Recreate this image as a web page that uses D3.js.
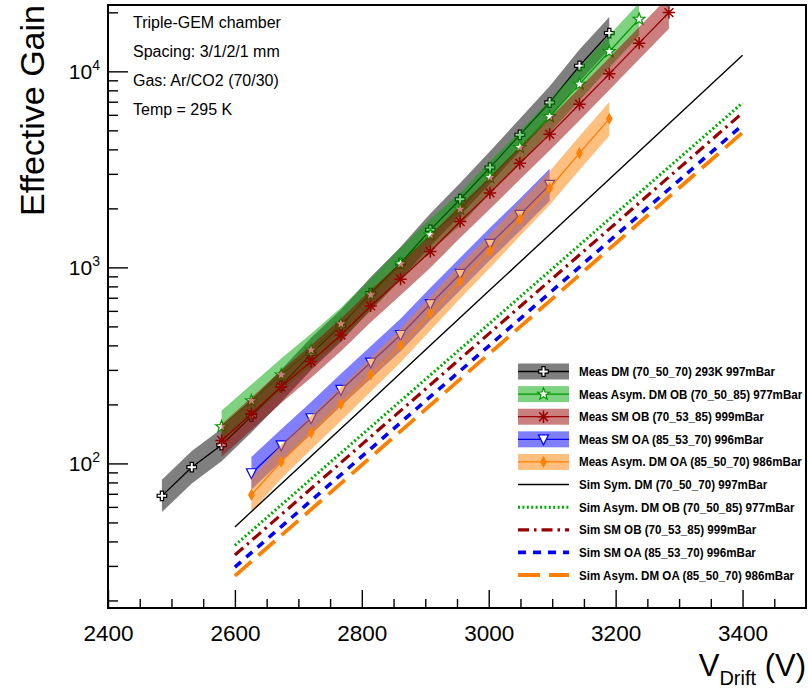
<!DOCTYPE html>
<html><head><meta charset="utf-8">
<script src="https://cdn.jsdelivr.net/npm/d3@7"></script>
<style>
body{margin:0;background:#fff}
svg{display:block}
text{font-family:"Liberation Sans",Arial,Helvetica,sans-serif}
</style>
</head><body>
<svg id="c" width="808" height="693"></svg>
<script>
// ---------------- data ----------------
const dmVolts  = [2485,2532,2579,2626,2673,2720,2767,2814,2861,2908,2955,3002,3049,3096,3143,3190];
const dmGain   = [68.3,95.7,124,174,249,362,503,738,1050,1554,2228,3229,4743,6933,10670,15670];
const obVolts  = [2579,2626,2673,2720,2767,2814,2861,2908,2955,3002,3049,3096,3143,3190,3237];
const obGain   = [154,209,283,379,515,724,1042,1465,1981,2878,4095,5880,8603,12620,18460];
const smobVolts= [2579,2626,2673,2720,2767,2814,2861,2908,2955,3002,3049,3096,3143,3190,3237,3284];
const smobGain = [131,179,246,331,452,636,871,1204,1713,2399,3400,4770,6800,9710,13930,19950];
const smoaVolts= [2626,2673,2720,2767,2814,2861,2908,2955,3002,3049,3096];
const smoaGain = [89.1,123.6,170,237,327,452,650,926,1318,1853,2636];
const oaVolts  = [2626,2673,2720,2767,2814,2861,2908,2955,3002,3049,3096,3143,3190];
const oaGain   = [69.1,102,143.6,201,283,399,582,847,1214,1762,2535,3826,5724];
const measRelErr = [0.21,0.21,0.21,0.21,0.22];

const simVolts   = [2600,2700,2800,2900,3000,3100,3200,3300,3400];
const simSymDM   = [47.4,94.8,189,379,757,1512,3023,6043,12080];
const simAsymOB  = [38.2,73.1,140,268,513,983,1883,3606,6906];
const simSMOB    = [34.1,65.3,125,239,458,876,1676,3208,6138];
const simSMOA    = [29.6,56.7,108.5,208,397,760,1454,2782,5321];
const simAsymOA  = [26.7,51.1,98.1,188,361,691,1326,2542,4873];

const legendLabels = [
  "Meas DM (70_50_70) 293K  997mBar",
  "Meas Asym. DM OB (70_50_85) 977mBar",
  "Meas SM OB (70_53_85) 999mBar",
  "Meas SM OA (85_53_70) 996mBar",
  "Meas Asym. DM OA (85_50_70) 986mBar",
  "Sim Sym. DM (70_50_70) 997mBar",
  "Sim Asym. DM OB (70_50_85) 977mBar",
  "Sim SM OB (70_53_85)  999mBar",
  "Sim SM OA (85_53_70) 996mBar",
  "Sim Asym. DM OA (85_50_70) 986mBar"
];
const infoLines = ["Triple-GEM chamber","Spacing: 3/1/2/1 mm","Gas: Ar/CO2 (70/30)","Temp = 295 K"];
const xMajor = [2400,2600,2800,3000,3200,3400];
const yMajor = [100,1000,10000];
const yExp = ["2","3","4"];

// ---------------- layout ----------------
const L=108, R=806, T=5, B=608;
const svg = d3.select("#c");
const x = d3.scaleLinear().domain([2400,3500]).range([L,R]);
const y = d3.scaleLog().domain([18.3,21800]).range([B,T]);

svg.append("defs").append("clipPath").attr("id","clip")
  .append("rect").attr("x",L).attr("y",T).attr("width",R-L).attr("height",B-T);
const plot = svg.append("g").attr("clip-path","url(#clip)");

// marker shapes
function markerPath(type){
  switch(type){
    case "cross": { const a=4.8,b=1.6; return `M${-b},${-a}H${b}V${-b}H${a}V${b}H${b}V${a}H${-b}V${b}H${-a}V${-b}H${-b}Z`; }
    case "star": { let p=[]; for(let i=0;i<10;i++){const r=i%2?2.6:6.2; const an=-Math.PI/2+i*Math.PI/5; p.push([r*Math.cos(an),r*Math.sin(an)]);} return "M"+p.map(d=>d.join(",")).join("L")+"Z"; }
    case "aster": { const r=6.2,q=r*Math.SQRT1_2; return `M${-r},0H${r}M0,${-r}V${r}M${-q},${-q}L${q},${q}M${-q},${q}L${q},${-q}`; }
    case "tri": return "M-5,-4.5L5,-4.5L0,5.5Z";
    case "diamond": return "M0,-4.8L2.7,0L0,4.8L-2.7,0Z";
  }
}

const meas = [
  {v:dmVolts,  g:dmGain,  band:"rgba(0,0,0,0.5)",     line:"#000000", mk:"cross",  mfill:"#ffffff", mstroke:"#000000", sw:1.2},
  {v:obVolts,  g:obGain,  band:"rgba(0,165,0,0.5)",   line:"#009900", mk:"star",   mfill:"#ffffff", mstroke:"#009900", sw:1.2},
  {v:smobVolts,g:smobGain,band:"rgba(153,0,0,0.5)",   line:"#990000", mk:"aster",  mfill:"none",    mstroke:"#990000", sw:1.5},
  {v:smoaVolts,g:smoaGain,band:"rgba(0,0,255,0.5)",   line:"#0000ff", mk:"tri",    mfill:"#ffffff", mstroke:"#0000ff", sw:1.2},
  {v:oaVolts,  g:oaGain,  band:"rgba(255,128,0,0.5)", line:"#ff8000", mk:"diamond",mfill:"#ff8000", mstroke:"#ff8000", sw:1.2}
];

const sims = [
  {g:simSymDM,  color:"#000000", w:1.4, dash:null},
  {g:simAsymOB, color:"#00aa00", w:3,   dash:"2,2.4"},
  {g:simSMOB,   color:"#990000", w:3.2, dash:"11,5,2.5,5"},
  {g:simSMOA,   color:"#0000ff", w:3.6, dash:"8,7"},
  {g:simAsymOA, color:"#ff8000", w:3.8, dash:"22,9"}
];

// measured series: band, line, markers (drawn in sequence)
meas.forEach((s,i)=>{
  const e = measRelErr[i];
  const pts = s.v.map((v,j)=>({v, g:s.g[j]}));
  const area = d3.area().x(d=>x(d.v)).y0(d=>y(d.g/(1+e))).y1(d=>y(d.g*(1+e)));
  plot.append("path").attr("d",area(pts)).attr("fill",s.band).attr("stroke","none");
  const line = d3.line().x(d=>x(d.v)).y(d=>y(d.g));
  plot.append("path").attr("d",line(pts)).attr("fill","none").attr("stroke",s.line).attr("stroke-width",1.3);
  plot.selectAll(null).data(pts).enter().append("path")
    .attr("transform",d=>`translate(${x(d.v)},${y(d.g)})`)
    .attr("d",markerPath(s.mk)).attr("fill",s.mfill).attr("stroke",s.mstroke).attr("stroke-width",s.sw);
});

// simulation lines
sims.forEach(s=>{
  const pts = simVolts.map((v,j)=>({v, g:s.g[j]}));
  const line = d3.line().x(d=>x(d.v)).y(d=>y(d.g));
  const p = plot.append("path").attr("d",line(pts)).attr("fill","none")
    .attr("stroke",s.color).attr("stroke-width",s.w);
  if(s.dash) p.attr("stroke-dasharray",s.dash);
});

// ---------------- axes ----------------
const xMinor = d3.range(2450,3500,50).filter(v=>!xMajor.includes(v));
const xAx = svg.append("g").attr("transform",`translate(0,${B})`)
  .call(d3.axisBottom(x).tickValues(xMajor).tickSize(-18).tickPadding(17).tickFormat(d3.format("d")));
svg.append("g").attr("transform",`translate(0,${B})`)
  .call(d3.axisBottom(x).tickValues(xMinor).tickSize(-9).tickFormat(""));
xAx.selectAll("text").attr("font-size",22.5).attr("fill","#000");

let yMinor = [];
[10,100,1000,10000].forEach(d=>{for(let k=2;k<=9;k++){const v=d*k; if(v>18.3&&v<21800) yMinor.push(v);}});
svg.append("g").attr("transform",`translate(${L},0)`)
  .call(d3.axisLeft(y).tickValues(yMajor).tickSize(-20).tickFormat(""));
svg.append("g").attr("transform",`translate(${L},0)`)
  .call(d3.axisLeft(y).tickValues(yMinor).tickSize(-10).tickFormat(""));
svg.selectAll(".domain").remove();
svg.selectAll(".tick line").attr("stroke","#000").attr("stroke-width",1.4);

const yl = svg.append("g").selectAll("text").data(yMajor).enter().append("text")
  .attr("x",100).attr("y",d=>y(d)+8).attr("text-anchor","end").attr("font-size",21);
yl.append("tspan").text("10");
yl.append("tspan").attr("font-size",14).attr("dy",-9).text((d,i)=>yExp[i]);

// frame
svg.append("rect").attr("x",L).attr("y",T).attr("width",R-L).attr("height",B-T)
  .attr("fill","none").attr("stroke","#000").attr("stroke-width",2);

// titles
svg.append("text").attr("transform",`translate(44,${T}) rotate(-90)`)
  .attr("text-anchor","end").attr("font-size",34).text("Effective Gain");
const xt = svg.append("text").attr("x",806).attr("y",676).attr("text-anchor","end").attr("font-size",31);
xt.append("tspan").text("V");
xt.append("tspan").attr("font-size",20).attr("dy",9).text("Drift");
xt.append("tspan").attr("dy",-9).text(" (V)");

// info text
const infoY = d3.scalePoint().domain(d3.range(infoLines.length)).range([28,115]);
svg.append("g").selectAll("text").data(infoLines).enter().append("text")
  .attr("x",133).attr("y",(d,i)=>infoY(i)).attr("font-size",16).text(d=>d);

// ---------------- legend ----------------
const rowY = d3.scalePoint().domain(d3.range(legendLabels.length)).range([371.5,575]);
const lg = svg.append("g");
const bx0=518, bx1=569, bxc=(bx0+bx1)/2;
meas.forEach((s,i)=>{
  const yy=rowY(i);
  lg.append("rect").attr("x",bx0).attr("y",yy-8).attr("width",bx1-bx0).attr("height",16).attr("fill",s.band);
  lg.append("line").attr("x1",bx0).attr("x2",bx1).attr("y1",yy).attr("y2",yy).attr("stroke",s.line).attr("stroke-width",1.3);
  lg.append("path").attr("transform",`translate(${bxc},${yy})`).attr("d",markerPath(s.mk))
    .attr("fill",s.mfill).attr("stroke",s.mstroke).attr("stroke-width",s.sw);
});
sims.forEach((s,i)=>{
  const yy=rowY(i+5);
  const l=lg.append("line").attr("x1",bx0).attr("x2",bx1).attr("y1",yy).attr("y2",yy)
    .attr("stroke",s.color).attr("stroke-width",s.w);
  if(s.dash) l.attr("stroke-dasharray",s.dash);
});
legendLabels.forEach((t,i)=>{
  lg.append("text").attr("transform",`translate(579,${rowY(i)+4.5}) scale(0.86,1)`)
    .attr("font-size",13.5).attr("font-weight","bold").text(t);
});
</script>
</body></html>
